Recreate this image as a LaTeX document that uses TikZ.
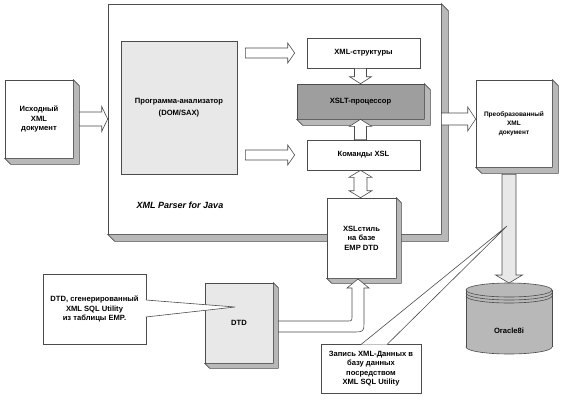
\documentclass[tikz,border=0pt]{standalone}
\usepackage{fontspec}
\setmainfont{Liberation Sans}
\usepackage{xcolor}
\usetikzlibrary{calc}

\definecolor{edge}{gray}{0.3}
\definecolor{light}{gray}{0.91}
\definecolor{dark}{gray}{0.62}
\definecolor{side}{gray}{0.72}
\definecolor{dbgray}{gray}{0.72}

\newcommand\dtxt{\fontsize{7.6}{9.5}\selectfont\bfseries}
\newcommand\dsmall{\fontsize{6.5}{9}\selectfont\bfseries}

\tikzset{
  box/.style={draw=edge, fill=white, line width=.6pt, inner sep=1pt,
    align=center, font=\dtxt},
  shade3d/.style={draw=edge, fill=side, line width=.6pt},
  blk/.style n args={3}{draw=edge, fill=white, line width=.6pt,
    to path={let \p1=($(\tikztotarget)!#3!(\tikztostart)$) in
      ($(\tikztostart)!#1!90:(\tikztotarget)$)
      -- ($(\p1)!#1!90:(\tikztotarget)$) -- ($(\p1)!#2!90:(\tikztotarget)$)
      -- (\tikztotarget)
      -- ($(\p1)!#2!-90:(\tikztotarget)$) -- ($(\p1)!#1!-90:(\tikztotarget)$)
      -- ($(\tikztostart)!#1!-90:(\tikztotarget)$) -- cycle}},
  dblk/.style n args={3}{draw=edge, fill=white, line width=.6pt,
    to path={let \p1=($(\tikztostart)!#3!(\tikztotarget)$),
      \p2=($(\tikztotarget)!#3!(\tikztostart)$) in
      (\tikztostart)
      -- ($(\p1)!#2!90:(\tikztotarget)$) -- ($(\p1)!#1!90:(\tikztotarget)$)
      -- ($(\p2)!#1!90:(\tikztotarget)$) -- ($(\p2)!#2!90:(\tikztotarget)$)
      -- (\tikztotarget)
      -- ($(\p2)!#2!-90:(\tikztotarget)$) -- ($(\p2)!#1!-90:(\tikztotarget)$)
      -- ($(\p1)!#1!-90:(\tikztotarget)$) -- ($(\p1)!#2!-90:(\tikztotarget)$)
      -- cycle}},
}

\begin{document}
\begin{tikzpicture}
      [ x=1pt, y=-1pt
      , callout/.style={draw=edge, fill=white, line width=.6pt}
      ]
    \useasboundingbox (0,0) rectangle (568,402);

    % parser frame
    \node[box, minimum width=333, minimum height=230] (parser) at (274.5,119) {};
    \draw[shade3d] (parser.north east) -- ++(7,7) -- ($(parser.south east)+(7,7)$)
      -- ($(parser.south west)+(7,7)$) -- (parser.south west) -- (parser.south east) -- cycle;
    \node[font=\fontsize{9}{11}\selectfont\bfseries\itshape] (pname) at (180,205) {XML Parser for Java};

    \node[box, fill=light, minimum width=116, minimum height=133] (prog) at (179,107.5)
      {Программа-анализатор\\[3pt](DOM/SAX)};
    \node[box, minimum width=68, minimum height=78] (src) at (39,119) {Исходный\\XML\\документ};
    \node[box, minimum width=113, minimum height=30] (xmls) at (363.5,53) {XML-структуры};
    \node[box, fill=dark, minimum width=127, minimum height=35] (xslt) at (360.5,101.5) {XSLT-процессор};
    \node[box, minimum width=113, minimum height=30] (cmds) at (363.5,155) {Команды XSL};
    \node[box, minimum width=69, minimum height=80] (xsl) at (361.5,238) {XSLстиль\\на базе\\EMP DTD};
    \node[box, font=\dsmall, minimum width=76, minimum height=87] (dst) at (514,123.5)
      {Преобразованный\\XML\\документ};
    \node[box, fill=light, minimum width=68, minimum height=80] (dtd) at (239,323) {DTD};

    \foreach \n/\d in {src/6, xslt/6, xsl/5, dst/6, dtd/5}
      \draw[shade3d] (\n.north east) -- ++(\d,\d) -- ($(\n.south east)+(\d,\d)$)
        -- ($(\n.south west)+(\d,\d)$) -- (\n.south west) -- (\n.south east) -- cycle;

    % database
    \filldraw[fill=dbgray, draw=edge, line width=.6pt] (509,347) ellipse[x radius=43, y radius=7];
    \fill[dbgray] (466,290) rectangle (552,347);
    \draw[edge, line width=.6pt] (466,290) -- (466,347) (552,290) -- (552,347);
    \filldraw[fill=dbgray, draw=edge, line width=.6pt] (509,290) ellipse[x radius=43, y radius=7];
    \foreach \y in {293,296}
      \draw[edge, line width=.6pt] (466,\y) arc[start angle=180, end angle=0, x radius=43, y radius=7];
    \node[font=\dtxt] (db) at (509,331) {Oracle8i};
    \coordinate (dbtop) at (509,283);

    % block arrows
    \draw[blk={7pt}{12.5pt}{6pt}] ($(src.east)+(6,0)$) to (parser.west |- src.east);
    \draw[blk={5pt}{10pt}{7pt}] ($(prog.east |- xmls.west)+(8,0)$) to ($(xmls.west)+(-12,0)$);
    \draw[blk={5pt}{10pt}{7pt}] ($(prog.east |- cmds.west)+(8,0)$) to ($(cmds.west)+(-12,0)$);
    \draw[blk={6pt}{11pt}{7pt}] (xslt.north |- xmls.south) to (xslt.north);
    \draw[blk={6pt}{11pt}{7pt}] (xslt.south |- cmds.north) to (xslt.south);
    \draw[dblk={6.5pt}{11.5pt}{7pt}] (xslt.south |- cmds.south) to (xslt.south |- xsl.north);
    \draw[blk={6pt}{12pt}{8pt}] (parser.east) to (dst.west |- parser.east);
    \draw[blk={7pt}{13.5pt}{8pt}, fill=light] ($(dbtop |- dst.south)+(0,7)$) to (dbtop);

    % DTD -> XSL style
    \draw[draw=edge, fill=white, line width=.6pt]
      ($(dtd.east)+(5,-2)$) -- (347,321) .. controls (352,321) .. (352,316)
      -- (352,288) -- (347,288) -- (358,279) -- (369,288) -- (364,288)
      -- (364,320) .. controls (364,332) .. (352,332) -- ($(dtd.east)+(5,9)$) -- cycle;

    % notes
    \node[box, minimum width=103, minimum height=70] (note1) at (94.5,309)
      {DTD, сгенерированный\\XML SQL Utility\\из таблицы EMP.};
    \coordinate (tip1) at (235,307);
    \draw[callout] ($(note1.east |- 0,300)+(-.5,0)$) -- (tip1) -- ($(note1.east |- 0,317)+(-.5,0)$);

    \node[box, minimum width=100, minimum height=49] (note2) at (371,368.5)
      {Запись XML-Данных в\\базу данных\\посредством\\XML SQL Utility};
    \coordinate (tip2) at (507,226);
    \draw[callout] ($(note2.north |- 0,344)+(-10,.5)$) -- (tip2) -- ($(note2.north |- 0,344)+(16,.5)$);

  \end{tikzpicture}
\end{document}
